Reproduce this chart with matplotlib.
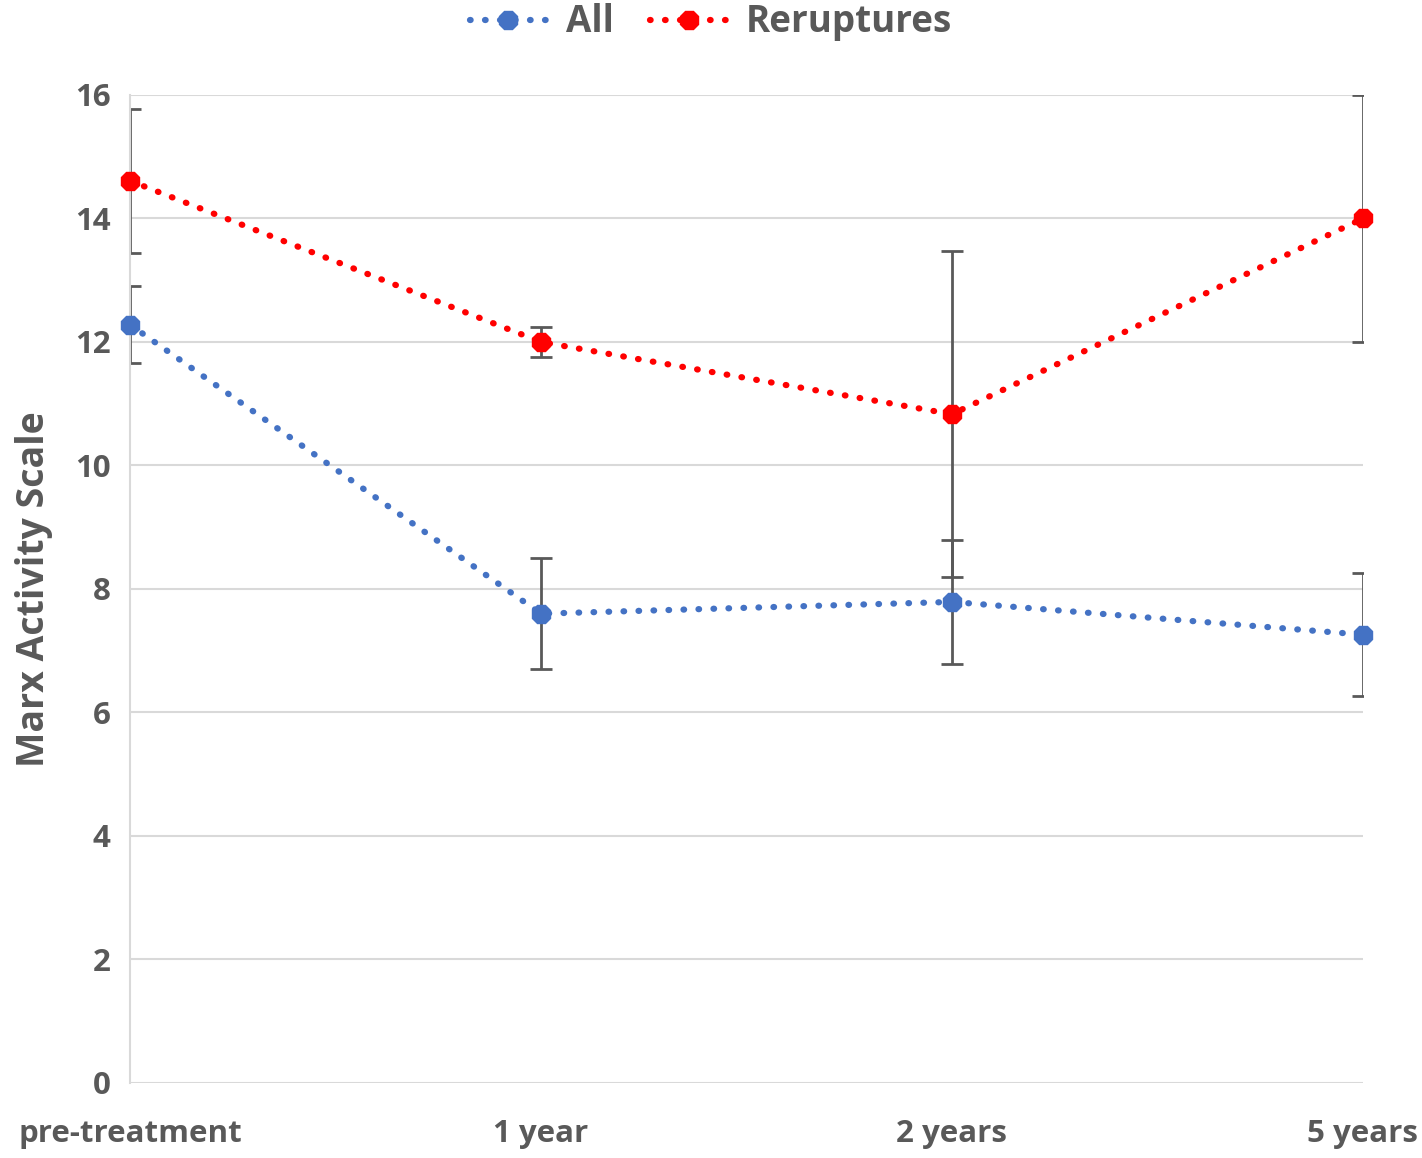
import matplotlib.pyplot as plt

categories = ['pre-treatment', '1 year', '2 years', '5 years']
all_mean = [12.28, 7.6, 7.79, 7.26]
all_err = [0.62, 0.9, 1.0, 1.0]
rerup_mean = [14.61, 12.0, 10.83, 14.0]
rerup_err = [1.17, 0.25, 2.64, 2.0]

plt.rcParams['font.family'] = ['Open Sans', 'DejaVu Sans']
text_color = '#595959'

fig = plt.figure(figsize=(14.22, 11.58), dpi=100)
ax = fig.add_axes([0.0914, 0.0648, 0.8671, 0.8532])

x = list(range(len(categories)))

for mean, err, color, label in [(all_mean, all_err, '#4472c4', 'All'),
                                (rerup_mean, rerup_err, '#ff0000', 'Reruptures')]:
    ax.errorbar(x, mean, yerr=err, fmt='none', ecolor='#595959', elinewidth=2.0,
                capsize=8, capthick=2.0, zorder=2)
    ax.plot(x, mean, linestyle=(0, (0.1, 2.3)), dash_capstyle='round', linewidth=4.5,
            color=color, marker='8', markersize=14, label=label, clip_on=False, zorder=3)

ax.set_xlim(0, 3)
ax.set_ylim(0, 16)
ax.set_yticks(range(0, 17, 2))
ax.set_xticks(x)
ax.set_xticklabels(categories)
ax.grid(axis='y', color='#d9d9d9', linewidth=1.5)
ax.set_axisbelow(True)
for side in ['top', 'right', 'bottom']:
    ax.spines[side].set_visible(False)
ax.spines['left'].set_color('#d9d9d9')
ax.spines['left'].set_linewidth(1.5)
ax.tick_params(length=0, labelsize=22.5, colors=text_color, pad=14)
ax.tick_params(axis='x', pad=26)
for lbl in ax.get_xticklabels() + ax.get_yticklabels():
    lbl.set_fontweight('bold')
ax.set_ylabel('Marx Activity Scale', fontsize=27, fontweight='bold', color=text_color, labelpad=16)

handles, labels = ax.get_legend_handles_labels()
leg = fig.legend(handles, labels, loc='upper center', bbox_to_anchor=(0.5, 0.997), ncol=2,
                 frameon=False, fontsize=26.5, handlelength=2.1, handletextpad=0.5,
                 columnspacing=1.0, borderaxespad=0.0, borderpad=0.0)
for t in leg.get_texts():
    t.set_color(text_color)
    t.set_fontweight('bold')

fig.savefig('out.png', dpi=100)
